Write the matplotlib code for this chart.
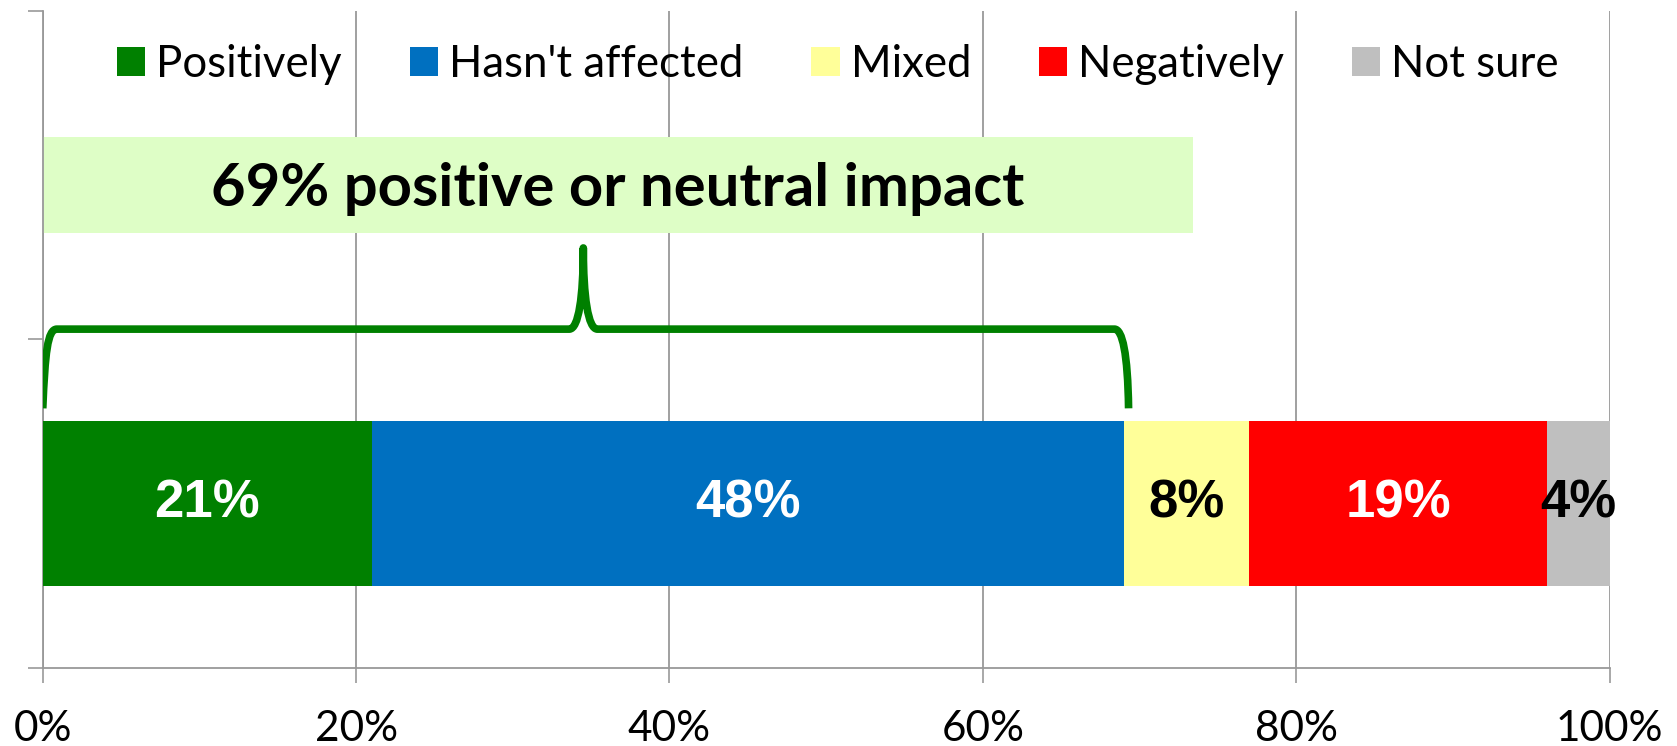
import matplotlib
matplotlib.use("Agg")
import matplotlib.pyplot as plt
from matplotlib.patches import Rectangle, PathPatch
from matplotlib.path import Path

# survey answers, share of respondents (%)
categories = ["Positively", "Hasn't affected", "Mixed", "Negatively", "Not sure"]
values = [21, 48, 8, 19, 4]
colors = ["#008000", "#0070C0", "#FFFF99", "#FF0000", "#BFBFBF"]
label_colors = ["white", "white", "black", "white", "black"]
xticks = [0, 20, 40, 60, 80, 100]
xtick_labels = ["0%", "20%", "40%", "60%", "80%", "100%"]
callout = "69% positive or neutral impact"

GRID = "#999999"

fig = plt.figure(figsize=(16.77, 7.46), dpi=100)
ax = fig.add_axes([0.0255, 0.1046, 0.9343, 0.8811])

left = 0
containers = []
for cat, val, col in zip(categories, values, colors):
    c = ax.barh(0, val, left=left, height=0.5, color=col, label=cat, zorder=3)
    containers.append(c)
    left += val

for c, val, lc in zip(containers, values, label_colors):
    ax.bar_label(c, labels=[f"{val}%"], label_type="center", color=lc,
                 fontsize=38, fontweight="bold", family="Liberation Sans", zorder=5)

ax.set_xlim(0, 100)
ax.set_ylim(-0.5, 1.5)
ax.set_xticks(xticks)
ax.set_xticklabels(xtick_labels, family="Lato", fontsize=30.5)
ax.set_yticks([-0.5, 0.5, 1.5])
ax.set_yticklabels([])
ax.tick_params(axis="both", direction="out", length=10.5, width=1.2, color=GRID)
ax.tick_params(axis="x", pad=20)
ax.grid(axis="x", color=GRID, linewidth=1.3, zorder=0)
ax.set_axisbelow(True)
for s in ["top", "right"]:
    ax.spines[s].set_visible(False)
for s in ["left", "bottom"]:
    ax.spines[s].set_color(GRID)
    ax.spines[s].set_linewidth(1.3)

# callout box
ax.add_patch(Rectangle((0, 0.824), 73.4, 0.292, facecolor="#DEFEC6",
                       edgecolor="none", zorder=2))
ax.text(36.7, 0.958, callout, ha="center", va="center", fontsize=43,
        fontweight="bold", family="Lato", zorder=4)

# curly brace over the first two segments
x0 = 0
x1 = values[0] + values[1]
xm = (x0 + x1) / 2
yb, yh, yp = 0.29, 0.531, 0.778
verts = [
    (x0, yb), (x0 + 0.15, yb + 0.7 * (yh - yb)), (x0 + 0.3, yh), (x0 + 0.9, yh),
    (xm - 0.9, yh),
    (xm - 0.3, yh), (xm, yh + 0.4 * (yp - yh)), (xm, yp),
    (xm, yh + 0.4 * (yp - yh)), (xm + 0.3, yh), (xm + 0.9, yh),
    (x1 - 0.6, yh),
    (x1 - 0.1, yh), (x1 + 0.25, yb + 0.7 * (yh - yb)), (x1 + 0.3, yb),
]
codes = [Path.MOVETO, Path.CURVE4, Path.CURVE4, Path.CURVE4,
         Path.LINETO,
         Path.CURVE4, Path.CURVE4, Path.CURVE4,
         Path.CURVE4, Path.CURVE4, Path.CURVE4,
         Path.LINETO,
         Path.CURVE4, Path.CURVE4, Path.CURVE4]
ax.add_patch(PathPatch(Path(verts, codes), facecolor="none", edgecolor="#008000",
                       linewidth=5.5, capstyle="butt", joinstyle="round", zorder=4))

leg = ax.legend(loc="center", bbox_to_anchor=(0.5075, 0.918), ncol=5, frameon=False,
                prop={"family": "Lato", "size": 31.5}, handlelength=0.65,
                handleheight=0.65, handletextpad=0.25, columnspacing=1.55,
                borderaxespad=0)

fig.savefig("out.png", dpi=100)
